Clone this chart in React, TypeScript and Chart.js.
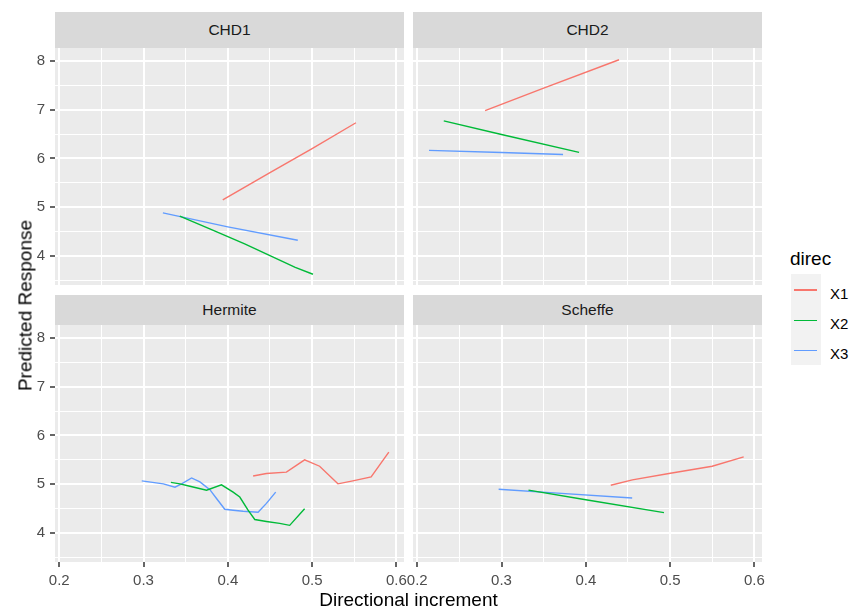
import React, { useEffect, useRef } from "react";
import { Chart, registerables } from "chart.js";

Chart.register(...registerables);

// ---------- data ----------
const panelNames = ["CHD1", "CHD2", "Hermite", "Scheffe"];
const seriesNames = ["X1", "X2", "X3"];
const seriesColors = ["#F8766D", "#00BA38", "#619CFF"];
const legendTitle = "direc";
const xTitle = "Directional increment";
const yTitle = "Predicted Response";

const xTicks = [0.2, 0.25, 0.3, 0.35, 0.4, 0.45, 0.5, 0.55, 0.6];
const xMajorLabels = ["0.2", "0.3", "0.4", "0.5", "0.6"];
const yTicks = [3.5, 4, 4.5, 5, 5.5, 6, 6.5, 7, 7.5, 8];
const yMajorLabels = ["4", "5", "6", "7", "8"];
const xRange = [0.195, 0.609];
const yRange = [3.41, 8.26];

// CHD1
const chd1X1x = [0.394, 0.45, 0.5, 0.552];
const chd1X1y = [5.15, 5.71, 6.2, 6.73];
const chd1X2x = [0.343, 0.38, 0.42, 0.45, 0.48, 0.501];
const chd1X2y = [4.82, 4.55, 4.25, 4.01, 3.77, 3.63];
const chd1X3x = [0.323, 0.4, 0.483];
const chd1X3y = [4.885, 4.6, 4.325];

// CHD2
const chd2X1x = [0.2805, 0.35, 0.4394];
const chd2X1y = [6.98, 7.44, 8.02];
const chd2X2x = [0.2315, 0.3, 0.392];
const chd2X2y = [6.77, 6.49, 6.125];
const chd2X3x = [0.214, 0.3, 0.373];
const chd2X3y = [6.165, 6.12, 6.08];

// Hermite
const herX1x = [0.43, 0.4458, 0.4695, 0.4911, 0.5089, 0.5306, 0.5483, 0.57, 0.591];
const herX1y = [5.17, 5.22, 5.25, 5.5, 5.37, 5.01, 5.07, 5.15, 5.66];
const herX2x = [0.3325, 0.3432, 0.355, 0.3748, 0.3925, 0.4063, 0.4142, 0.424, 0.432, 0.4458, 0.4615, 0.4734, 0.4911];
const herX2y = [5.04, 5.01, 4.96, 4.88, 4.99, 4.84, 4.74, 4.47, 4.28, 4.24, 4.2, 4.16, 4.5];
const herX3x = [0.2979, 0.3235, 0.3373, 0.3452, 0.357, 0.3669, 0.3787, 0.3866, 0.3964, 0.4063, 0.4181, 0.4359, 0.4458, 0.4568];
const herX3y = [5.07, 5.01, 4.94, 5.01, 5.13, 5.05, 4.89, 4.71, 4.49, 4.47, 4.45, 4.43, 4.61, 4.84];

// Scheffe
const schX1x = [0.4296, 0.4552, 0.4986, 0.5499, 0.5873];
const schX1y = [4.98, 5.09, 5.22, 5.37, 5.56];
const schX2x = [0.332, 0.4, 0.4927];
const schX2y = [4.88, 4.685, 4.42];
const schX3x = [0.2966, 0.3664, 0.455];
const schX3y = [4.9, 4.82, 4.72];

const panelData = [
  [[chd1X1x, chd1X1y], [chd1X2x, chd1X2y], [chd1X3x, chd1X3y]],
  [[chd2X1x, chd2X1y], [chd2X2x, chd2X2y], [chd2X3x, chd2X3y]],
  [[herX1x, herX1y], [herX2x, herX2y], [herX3x, herX3y]],
  [[schX1x, schX1y], [schX2x, schX2y], [schX3x, schX3y]],
];

// ---------- layout ----------
const FONT = "'Liberation Sans', Arial, sans-serif";
const colPlot = [
  { left: 55, right: 404 },
  { left: 413, right: 762 },
];
const rowPlot = [
  { top: 48, bottom: 285, stripTop: 12, stripH: 36 },
  { top: 325, bottom: 562, stripTop: 295, stripH: 30 },
];

const xLabel = (v: number) => {
  const s = Number(v).toFixed(1);
  return Math.abs(v * 10 - Math.round(v * 10)) < 1e-6 && xMajorLabels.includes(s) ? s : "";
};
const yLabel = (v: number) => {
  const s = String(Math.round(v));
  return Math.abs(v - Math.round(v)) < 1e-6 && yMajorLabels.includes(s) ? s : "";
};
const isMajorX = (v: any) => typeof v === "number" && xLabel(v) !== "";
const isMajorY = (v: any) => typeof v === "number" && yLabel(v) !== "";

const bgPlugin = {
  id: "panelBg",
  beforeDraw(chart: any) {
    const { ctx, chartArea: a } = chart;
    ctx.save();
    ctx.fillStyle = "#EBEBEB";
    ctx.fillRect(a.left, a.top, a.right - a.left, a.bottom - a.top);
    ctx.restore();
  },
};

function Panel({ index }: { index: number }) {
  const ref = useRef<HTMLCanvasElement>(null);
  const col = index % 2;
  const row = Math.floor(index / 2);
  const showX = row === 1;
  const showY = col === 0;
  const yAxisW = showY ? 55 : 0;
  const xAxisH = showX ? 38 : 0;
  const padL = col === 0 ? 0 : 15;
  const padR = col === 0 ? 8 : 12;
  const canvasLeft = colPlot[col].left - yAxisW - padL;
  const width = colPlot[col].right + padR - canvasLeft;
  const canvasTop = rowPlot[row].top;
  const height = rowPlot[row].bottom - rowPlot[row].top + xAxisH;

  useEffect(() => {
    const datasets = panelData[index].map(([xs, ys], si) => ({
      label: seriesNames[si],
      data: xs.map((x, i) => ({ x, y: ys[i] })),
      borderColor: seriesColors[si],
      backgroundColor: seriesColors[si],
      borderWidth: 1.4,
      pointRadius: 0,
      tension: 0,
      fill: false,
    }));
    const chart = new Chart(ref.current as HTMLCanvasElement, {
      type: "line",
      data: { datasets },
      options: {
        responsive: false,
        animation: false,
        events: [],
        layout: { padding: { left: padL, right: padR, top: 0, bottom: 0 } },
        plugins: { legend: { display: false }, tooltip: { enabled: false }, title: { display: false } },
        scales: {
          x: {
            type: "linear",
            min: xRange[0],
            max: xRange[1],
            afterBuildTicks: (s: any) => {
              s.ticks = xTicks.map((v) => ({ value: v }));
            },
            afterFit: (s: any) => {
              s.height = xAxisH;
              s.paddingLeft = 0;
              s.paddingRight = 0;
              s.paddingTop = 0;
              s.paddingBottom = 0;
            },
            border: { display: false },
            grid: {
              color: "#FFFFFF",
              lineWidth: (c: any) => (isMajorX(c.tick?.value) ? 2 : 1),
              drawTicks: showX,
              tickLength: 5,
              tickWidth: 1.5,
              tickColor: (c: any) => (isMajorX(c.tick?.value) ? "#333333" : "rgba(0,0,0,0)"),
            },
            ticks: {
              display: showX,
              autoSkip: false,
              maxRotation: 0,
              minRotation: 0,
              padding: 5,
              color: "#4D4D4D",
              font: { family: FONT, size: 15 },
              callback: (v: any) => xLabel(Number(v)),
            },
          },
          y: {
            type: "linear",
            min: yRange[0],
            max: yRange[1],
            afterBuildTicks: (s: any) => {
              s.ticks = yTicks.map((v) => ({ value: v }));
            },
            afterFit: (s: any) => {
              s.width = yAxisW;
              s.paddingLeft = 0;
              s.paddingRight = 0;
              s.paddingTop = 0;
              s.paddingBottom = 0;
            },
            border: { display: false },
            grid: {
              color: "#FFFFFF",
              lineWidth: (c: any) => (isMajorY(c.tick?.value) ? 2 : 1),
              drawTicks: showY,
              tickLength: 5,
              tickWidth: 1.5,
              tickColor: (c: any) => (isMajorY(c.tick?.value) ? "#333333" : "rgba(0,0,0,0)"),
            },
            ticks: {
              display: showY,
              autoSkip: false,
              padding: 5,
              color: "#4D4D4D",
              font: { family: FONT, size: 15 },
              callback: (v: any) => yLabel(Number(v)),
            },
          },
        },
      },
      plugins: [bgPlugin],
    } as any);
    return () => chart.destroy();
  }, [index]);

  const strip = rowPlot[row];
  return (
    <>
      <div
        style={{
          position: "absolute",
          left: colPlot[col].left,
          top: strip.stripTop,
          width: colPlot[col].right - colPlot[col].left,
          height: strip.stripH,
          background: "#D9D9D9",
          color: "#1A1A1A",
          fontFamily: FONT,
          fontSize: 15.5,
          display: "flex",
          alignItems: "center",
          justifyContent: "center",
        }}
      >
        {panelNames[index]}
      </div>
      <canvas
        ref={ref}
        width={width}
        height={height}
        style={{ position: "absolute", left: canvasLeft, top: canvasTop, width, height }}
      />
    </>
  );
}

const legendKeyY = [290, 320.5, 350.5];

export default function App() {
  return (
    <div
      style={{
        position: "absolute",
        left: 0,
        top: 0,
        width: 851,
        height: 610,
        background: "#FFFFFF",
        overflow: "hidden",
        fontFamily: FONT,
      }}
    >
      {panelNames.map((_, i) => (
        <Panel key={i} index={i} />
      ))}
      {/* x title */}
      <div
        style={{
          position: "absolute",
          left: 408.5 - 200,
          width: 400,
          top: 590.4,
          height: 19,
          lineHeight: "19px",
          fontSize: 19,
          textAlign: "center",
          color: "#000",
          whiteSpace: "nowrap",
        }}
      >
        {xTitle}
      </div>
      {/* y title */}
      <div
        style={{
          position: "absolute",
          left: 24.5 - 150,
          top: 305 - 9.5,
          width: 300,
          height: 19,
          lineHeight: "19px",
          fontSize: 19,
          textAlign: "center",
          color: "#000",
          whiteSpace: "nowrap",
          transform: "rotate(-90deg)",
          transformOrigin: "50% 50%",
        }}
      >
        {yTitle}
      </div>
      {/* legend */}
      <div
        style={{
          position: "absolute",
          left: 790,
          top: 249,
          height: 19,
          lineHeight: "19px",
          fontSize: 19,
          color: "#000",
          whiteSpace: "nowrap",
        }}
      >
        {legendTitle}
      </div>
      <div style={{ position: "absolute", left: 791, top: 274, width: 30, height: 91, background: "#F2F2F2" }} />
      {seriesNames.map((n, i) => (
        <React.Fragment key={n}>
          <div
            style={{
              position: "absolute",
              left: 794,
              top: legendKeyY[i] - 0.7,
              width: 23,
              height: 1.4,
              background: seriesColors[i],
            }}
          />
          <div
            style={{
              position: "absolute",
              left: 830,
              top: legendKeyY[i] - 4.4,
              height: 15,
              lineHeight: "15px",
              fontSize: 15,
              color: "#000",
              whiteSpace: "nowrap",
            }}
          >
            {n}
          </div>
        </React.Fragment>
      ))}
    </div>
  );
}
